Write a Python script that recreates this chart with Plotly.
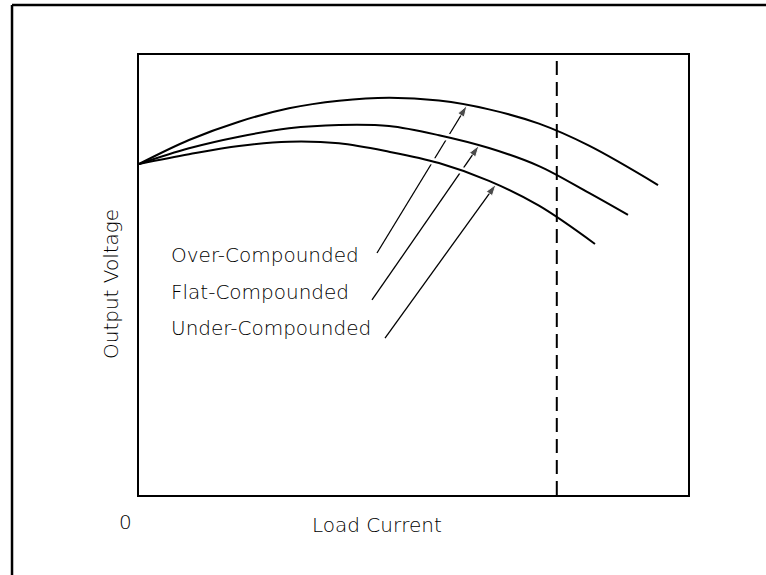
import numpy as np
import plotly.graph_objects as go

# Load current (percent of axis) and output voltage (percent of axis)
over_x = [0, 9.11, 18.21, 27.32, 36.43, 45.54, 54.64, 63.75, 72.86, 81.97, 94.54]
over_y = [75.23, 80.68, 84.84, 87.89, 89.61, 90.30, 89.64, 87.64, 84.39, 79.39, 70.45]

flat_x = [0, 9.11, 18.21, 27.32, 36.43, 45.54, 54.64, 63.75, 72.86, 81.97, 89.07]
flat_y = [75.23, 78.80, 81.43, 83.34, 84.09, 83.86, 81.77, 78.86, 74.75, 68.64, 63.64]

under_x = [0, 9.11, 18.21, 27.32, 36.43, 45.54, 54.64, 63.75, 72.86, 83.06]
under_y = [75.23, 77.43, 79.32, 80.30, 79.93, 78.02, 75.45, 71.39, 65.75, 57.05]

rated_load = 76.1

labels = ["Over-Compounded", "Flat-Compounded", "Under-Compounded"]
label_x = [5.45, 5.45, 5.45]
label_y = [54.55, 46.14, 37.95]
# where each leader line starts and where it touches its curve
tail_x = [43.35, 42.44, 44.81]
tail_y = [55.0, 44.32, 35.68]
tip_x = [59.74, 61.93, 65.03]

FONT = dict(family="DejaVu Sans", size=20, color="black", weight=300)
curves = [(over_x, over_y), (flat_x, flat_y), (under_x, under_y)]

fig = go.Figure()


def leader(i):
    cx, cy = curves[i]
    ty = float(np.interp(tip_x[i], cx, cy))
    fig.add_trace(go.Scatter(
        x=[tail_x[i], tip_x[i]], y=[tail_y[i], ty],
        mode="lines+markers",
        line=dict(color="black", width=1.3),
        marker=dict(symbol="arrow", angleref="previous", size=[0, 12], color="black"),
        hoverinfo="skip", showlegend=False,
    ))


def halo(i):
    cx, cy = curves[i]
    fig.add_trace(go.Scatter(
        x=cx[2:], y=cy[2:], mode="lines",
        line=dict(color="white", width=7, shape="spline"),
        hoverinfo="skip", showlegend=False,
    ))


# draw order gives the little gaps where the leaders pass under the curves
leader(0)
halo(1)
leader(1)
halo(2)
leader(2)

for cx, cy in curves:
    fig.add_trace(go.Scatter(
        x=cx, y=cy, mode="lines",
        line=dict(color="black", width=2, shape="spline"),
        hoverinfo="skip", showlegend=False,
    ))

for txt, lx, ly in zip(labels, label_x, label_y):
    fig.add_annotation(x=lx, y=ly, text=txt, showarrow=False,
                       xanchor="left", yanchor="middle", font=FONT)

# rated load line
fig.add_shape(type="line", x0=rated_load, x1=rated_load, y0=0, y1=100,
              line=dict(color="black", width=2, dash="14px,7px"))

# outer frame (only top and left edges fall inside the picture)
fig.add_shape(type="line", xref="paper", yref="paper", x0=-0.2313, x1=1.2, y0=1.1136, y1=1.1136,
              line=dict(color="black", width=2.5))
fig.add_shape(type="line", xref="paper", yref="paper", x0=-0.2313, x1=-0.2313, y0=-0.25, y1=1.1136,
              line=dict(color="black", width=2.5))

fig.add_annotation(xref="paper", yref="paper", x=0.4335, y=-0.068, text="Load Current",
                   xanchor="center", yanchor="middle", showarrow=False, font=FONT)
fig.add_annotation(xref="paper", yref="paper", x=-0.051, y=0.4795, text="Output Voltage",
                   xanchor="center", yanchor="middle", textangle=-90, showarrow=False, font=FONT)
fig.add_annotation(xref="paper", yref="paper", x=-0.0237, y=-0.0614, text="0",
                   xanchor="center", yanchor="middle", showarrow=False, font=FONT)

axis = dict(range=[0, 100], showgrid=False, zeroline=False, showticklabels=False,
            ticks="", showline=True, linecolor="black", linewidth=2, mirror=True,
            fixedrange=True)
fig.update_layout(
    width=766, height=575,
    margin=dict(l=139, r=78, t=55, b=80),
    plot_bgcolor="white", paper_bgcolor="white",
    xaxis=axis, yaxis=axis,
    showlegend=False,
)

# drop the browser's default 8px body margin so the figure sits at the window corner
fig.write_html("out.html", config={"displayModeBar": False},
               post_script="document.body.style.margin='0';")
